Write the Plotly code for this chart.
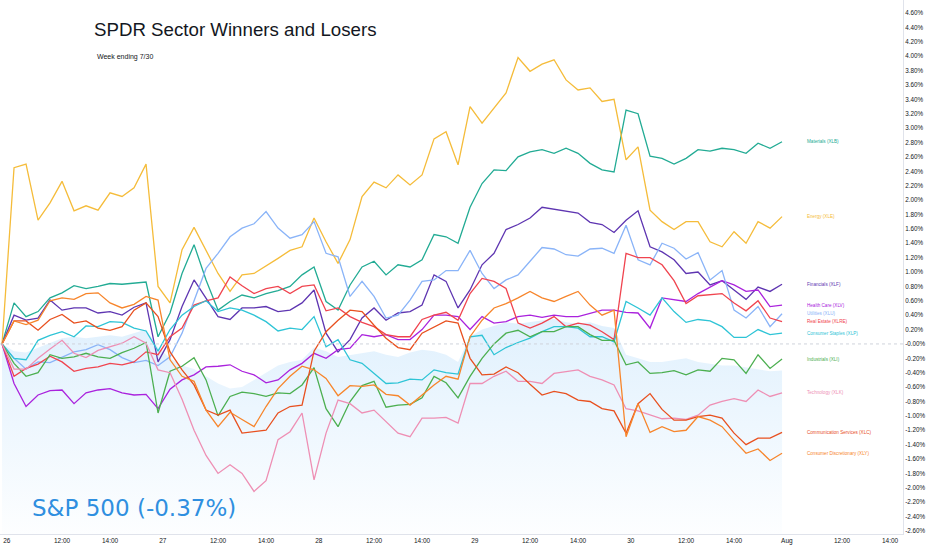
import plotly.graph_objects as go

# 30-minute bars, Mon Jul 26 -> Fri Jul 30 (13 bars per session + Friday close)
days = ["26", "27", "28", "29", "30", "Aug"]
bars_per_day = 13

materials = [0, 0.57, 0.38, 0.45, 0.64, 0.71, 0.81, 0.77, 0.80, 0.84, 0.83, 0.84, 0.86,
             0.10, 0.43, 0.98, 1.38, 0.89, 0.47, 0.59, 0.68, 0.64, 0.70, 0.74, 0.80, 0.96,
             1.07, 0.59, 0.47, 0.82, 1.07, 1.15, 0.96, 1.10, 1.07, 1.17, 1.52, 1.49, 1.40,
             1.90, 2.23, 2.42, 2.41, 2.60, 2.67, 2.70, 2.65, 2.72, 2.65, 2.51, 2.42, 2.39,
             3.25, 3.20, 2.61, 2.58, 2.50, 2.58, 2.70, 2.68, 2.72, 2.70, 2.65, 2.79, 2.72, 2.81]
energy = [0, 2.45, 2.50, 1.72, 1.96, 2.26, 1.85, 1.92, 1.86, 2.10, 2.05, 2.17, 2.50,
          0.80, 0.57, 1.31, 1.62, 1.31, 0.98, 0.73, 0.96, 0.98, 1.08, 1.19, 1.30, 1.35,
          1.75, 1.42, 1.12, 1.45, 2.05, 2.25, 2.17, 2.35, 2.21, 2.35, 2.85, 2.95, 2.49,
          3.30, 3.07, 3.28, 3.49, 3.98, 3.79, 3.89, 3.95, 3.67, 3.53, 3.56, 3.37, 3.40,
          2.56, 2.74, 1.86, 1.70, 1.59, 1.70, 1.70, 1.42, 1.35, 1.56, 1.40, 1.70, 1.61, 1.77]
financials = [0, 0.40, 0.33, 0.36, 0.61, 0.47, 0.50, 0.50, 0.43, 0.45, 0.40, 0.51, 0.57,
              -0.25, 0.06, 0.52, 0.89, 0.64, 0.38, 0.34, 0.50, 0.50, 0.52, 0.45, 0.47, 0.57,
              0.75, 0.15, -0.11, 0.06, 0.36, 0.50, 0.33, 0.43, 0.45, 0.54, 0.96, 0.87, 0.50,
              0.75, 1.10, 1.26, 1.59, 1.66, 1.75, 1.90, 1.87, 1.84, 1.82, 1.69, 1.66, 1.55,
              1.72, 1.85, 1.35, 1.28, 1.17, 0.98, 1.00, 0.82, 0.88, 0.75, 0.62, 0.79, 0.73, 0.83]
health_care = [0, -0.55, -0.87, -0.71, -0.65, -0.64, -0.83, -0.68, -0.64, -0.62, -0.68, -0.71, -0.70,
               -0.90, -0.63, -0.50, -0.43, -0.32, -0.31, -0.29, -0.38, -0.43, -0.54, -0.50, -0.36, -0.27,
               -0.13, -0.20, -0.08, -0.06, 0.13, 0.10, 0.13, 0.06, 0.06, 0.20, 0.40, 0.40, 0.38,
               0.20, 0.38, 0.29, 0.31, 0.38, 0.40, 0.37, 0.40, 0.38, 0.38, 0.43, 0.47, 0.47,
               0.44, 0.43, 0.22, 0.64, 0.61, 0.59, 0.70, 0.79, 0.88, 0.82, 0.73, 0.75, 0.52, 0.54]
utilities = [0, -0.20, -0.35, -0.25, -0.26, -0.19, -0.11, -0.08, -0.01, -0.08, -0.19, -0.26, -0.23,
             -0.30, -0.18, 0.15, 0.59, 1.05, 1.26, 1.49, 1.61, 1.67, 1.84, 1.61, 1.47, 1.52,
             1.70, 1.26, 1.21, 0.66, 0.87, 0.66, 0.36, 0.40, 0.61, 0.87, 0.89, 1.02, 1.02,
             1.30, 0.98, 0.77, 0.89, 0.96, 1.15, 1.34, 1.32, 1.24, 1.22, 1.32, 1.33, 1.26,
             1.65, 1.17, 1.10, 1.40, 1.33, 1.18, 1.27, 0.89, 1.02, 0.47, 0.36, 0.52, 0.24, 0.42]
real_estate = [0, -0.45, -0.34, -0.28, -0.17, -0.25, -0.38, -0.34, -0.32, -0.27, -0.29, -0.25, -0.11,
               -0.15, 0.10, 0.22, 0.54, 0.60, 0.64, 0.93, 0.81, 0.70, 0.77, 0.80, 0.70, 0.80,
               0.82, 0.46, 0.50, 0.38, 0.30, 0.24, 0.13, 0.10, 0.10, 0.34, 0.40, 0.44, 0.33,
               0.70, 0.91, 0.87, 0.77, 0.29, 0.22, 0.29, 0.38, 0.24, 0.29, 0.26, 0.17, 0.06,
               1.26, 1.20, 1.20, 1.10, 0.88, 0.56, 0.67, 0.68, 0.70, 0.57, 0.46, 0.60, 0.36, 0.31]
staples = [0, -0.20, -0.22, 0.05, 0.12, 0.17, 0.10, 0.25, 0.24, 0.31, 0.30, 0.22, 0.18,
           -0.10, 0.20, 0.40, 0.52, 0.60, 0.45, 0.50, 0.47, 0.40, 0.31, 0.18, 0.22, 0.20,
           0.38, -0.04, 0.06, -0.22, -0.27, -0.41, -0.55, -0.54, -0.49, -0.50, -0.36, -0.40, -0.42,
           0.10, 0.12, -0.15, -0.05, 0.02, 0.08, 0.17, 0.24, 0.24, 0.22, 0.10, 0.10, 0.03,
           0.59, 0.50, 0.40, 0.64, 0.45, 0.30, 0.34, 0.32, 0.24, 0.09, 0.09, 0.20, 0.13, 0.15]
industrials = [0, -0.27, -0.45, -0.40, -0.15, -0.20, -0.18, -0.13, -0.18, -0.20, -0.12, -0.06, 0.02,
               -0.96, -0.38, -0.31, -0.19, -0.50, -1.00, -0.73, -0.67, -0.69, -0.73, -0.68, -0.69, -0.57,
               -0.33, -0.90, -1.15, -0.80, -0.58, -0.52, -0.88, -0.85, -0.84, -0.75, -0.45, -0.54, -0.75,
               -0.45, -0.20, 0.00, 0.15, 0.19, 0.10, 0.17, 0.17, 0.24, 0.24, 0.13, 0.05, 0.05,
               -0.29, -0.25, -0.41, -0.40, -0.37, -0.43, -0.36, -0.38, -0.20, -0.22, -0.41, -0.15, -0.34, -0.21]
technology = [0, -0.35, -0.35, -0.20, -0.07, 0.05, -0.13, -0.19, -0.09, -0.04, 0.01, 0.10, 0.01,
              -0.36, -0.40, -0.77, -1.20, -1.55, -1.80, -1.68, -1.80, -2.05, -1.90, -1.33, -1.22, -0.96,
              -1.89, -1.24, -0.78, -0.83, -0.96, -0.92, -1.08, -1.24, -1.29, -1.03, -1.03, -1.02, -1.10,
              -0.55, -0.55, -0.45, -0.38, -0.52, -0.52, -0.55, -0.41, -0.38, -0.36, -0.45, -0.50, -0.57,
              -0.90, -0.93, -0.99, -1.04, -1.03, -1.05, -0.99, -0.85, -0.80, -0.76, -0.80, -0.64, -0.73, -0.68]
communication = [0, 0.32, 0.32, 0.19, 0.34, 0.41, 0.29, 0.32, 0.22, 0.19, 0.24, 0.47, 0.57,
                 0.38, -0.11, -0.36, -0.57, -0.92, -0.99, -0.92, -1.24, -1.22, -1.20, -0.96, -0.87, -0.85,
                 -0.10, 0.17, 0.33, 0.47, 0.45, 0.26, 0.08, -0.05, -0.08, 0.15, 0.24, 0.32, 0.29,
                 -0.20, -0.43, -0.42, -0.32, -0.40, -0.56, -0.71, -0.66, -0.69, -0.78, -0.80, -0.90, -0.93,
                 -1.24, -0.83, -0.69, -0.91, -1.06, -1.06, -1.01, -0.99, -1.03, -1.24, -1.40, -1.31, -1.31, -1.23]
discretionary = [0, 0.32, 0.27, 0.33, 0.60, 0.64, 0.62, 0.70, 0.71, 0.57, 0.50, 0.55, 0.66,
                 0.61, -0.22, -0.45, -0.52, -0.92, -1.15, -0.95, -1.05, -1.15, -0.87, -0.62, -0.45, -0.31,
                 -0.36, -0.48, -0.72, -0.58, -0.59, -0.57, -0.70, -0.72, -0.85, -0.71, -0.57, -0.45, -0.49,
                 0.10, 0.33, 0.50, 0.56, 0.64, 0.73, 0.64, 0.59, 0.66, 0.73, 0.54, 0.40, 0.47,
                 -1.29, -0.83, -1.23, -1.15, -1.22, -1.20, -1.01, -1.06, -1.15, -1.34, -1.52, -1.46, -1.62, -1.52]
sp500 = [0, -0.10, -0.12, -0.05, 0.02, 0.08, 0.10, 0.08, 0.10, 0.12, 0.10, 0.15, 0.20,
         -0.05, -0.20, -0.30, -0.35, -0.45, -0.55, -0.62, -0.60, -0.50, -0.40, -0.30, -0.25, -0.22,
         -0.05, -0.10, -0.18, -0.15, -0.12, -0.10, -0.15, -0.18, -0.12, -0.08, -0.10, -0.15, -0.25,
         0.10, 0.20, 0.25, 0.30, 0.28, 0.30, 0.32, 0.35, 0.30, 0.28, 0.30, 0.25, 0.22,
         -0.15, -0.20, -0.25, -0.25, -0.22, -0.20, -0.25, -0.28, -0.30, -0.30, -0.33, -0.35, -0.38, -0.37]

sectors = [
    ("Materials (XLB)", materials, "#22ab94"),
    ("Energy (XLE)", energy, "#f5bc3a"),
    ("Financials (XLF)", financials, "#5e35b1"),
    ("Health Care (XLV)", health_care, "#aa22dd"),
    ("Utilities (XLU)", utilities, "#8ab4f8"),
    ("Real Estate (XLRE)", real_estate, "#f0444f"),
    ("Consumer Staples (XLP)", staples, "#2ec4d6"),
    ("Industrials (XLI)", industrials, "#4caf50"),
    ("Technology (XLK)", technology, "#ee8fb4"),
    ("Communication Services (XLC)", communication, "#e8501f"),
    ("Consumer Discretionary (XLY)", discretionary, "#f7852b"),
]

x = list(range(len(sp500)))
y_lo, y_hi = -2.642, 4.781

fig = go.Figure()

# S&P 500 as a soft gradient area in the background
fig.add_trace(go.Scatter(x=x, y=[y_lo] * len(x), mode="lines",
                         line=dict(width=0), hoverinfo="skip", showlegend=False))
fig.add_trace(go.Scatter(
    x=x, y=sp500, mode="lines", line=dict(width=0), fill="tonexty",
    fillgradient=dict(type="vertical",
                      colorscale=[[0, "rgba(33,150,243,0.01)"], [1, "rgba(33,150,243,0.14)"]]),
    name="S&P 500", showlegend=False,
))

annotations = []
for name, vals, color in sectors:
    fig.add_trace(go.Scatter(x=x, y=vals, mode="lines", name=name,
                             line=dict(color=color, width=1.3), showlegend=False))
    annotations.append(dict(x=x[-1] + 1.9, y=vals[-1], xref="x", yref="y", text=name,
                            showarrow=False, xanchor="left", yanchor="middle",
                            font=dict(size=4.6, color=color)))

annotations += [
    dict(x=0.102, y=0.944, xref="paper", yref="paper", text="SPDR Sector Winners and Losers",
         showarrow=False, xanchor="left", yanchor="middle",
         font=dict(size=18.7, color="#131722", family="Liberation Sans")),
    dict(x=0.105, y=0.894, xref="paper", yref="paper", text="Week ending 7/30",
         showarrow=False, xanchor="left", yanchor="middle",
         font=dict(size=7, color="#131722")),
    dict(x=0.033, y=0.049, xref="paper", yref="paper", text="S&P 500 (-0.37%)",
         showarrow=False, xanchor="left", yanchor="middle",
         font=dict(size=23, color="#2f8fe0", family="DejaVu Sans")),
]

# session labels sit just right of the open, the clock labels at 12:00 / 14:00
tickvals, ticktext = [], []
for d, label in enumerate(days):
    for offset, text in [(0.4, label), (5, "12:00"), (9, "14:00")]:
        tickvals.append(d * bars_per_day + offset)
        ticktext.append(text)

yticks = [round(-2.6 + 0.2 * k, 2) for k in range(37)]
ylabels = ["-0.00%" if v == 0 else f"{v:.2f}%" for v in yticks]

fig.update_layout(
    width=932, height=550,
    margin=dict(l=0, r=29, t=0, b=16),
    paper_bgcolor="white", plot_bgcolor="white",
    font=dict(family="Liberation Sans", color="#131722"),
    annotations=annotations,
    shapes=[dict(type="line", xref="paper", x0=0, x1=1, yref="y", y0=0, y1=0,
                 line=dict(color="#cfd3db", width=1, dash="dot"))],
    xaxis=dict(range=[-0.17, 75.08], tickvals=tickvals, ticktext=ticktext,
               showgrid=False, zeroline=False, showline=True, linecolor="#e0e3eb",
               ticks="", tickfont=dict(size=6.5, color="#131722")),
    yaxis=dict(range=[y_lo, y_hi], side="right", tickvals=yticks, ticktext=ylabels,
               showgrid=False, zeroline=False, showline=True, linecolor="#e0e3eb",
               ticks="", tickfont=dict(size=6.3, color="#131722")),
    hovermode="x",
)

# drop the page's default body margin so the chart sits flush in the window
fig.write_html("out.html", config={"displayModeBar": False},
               post_script="document.body.style.margin = '0px';")
